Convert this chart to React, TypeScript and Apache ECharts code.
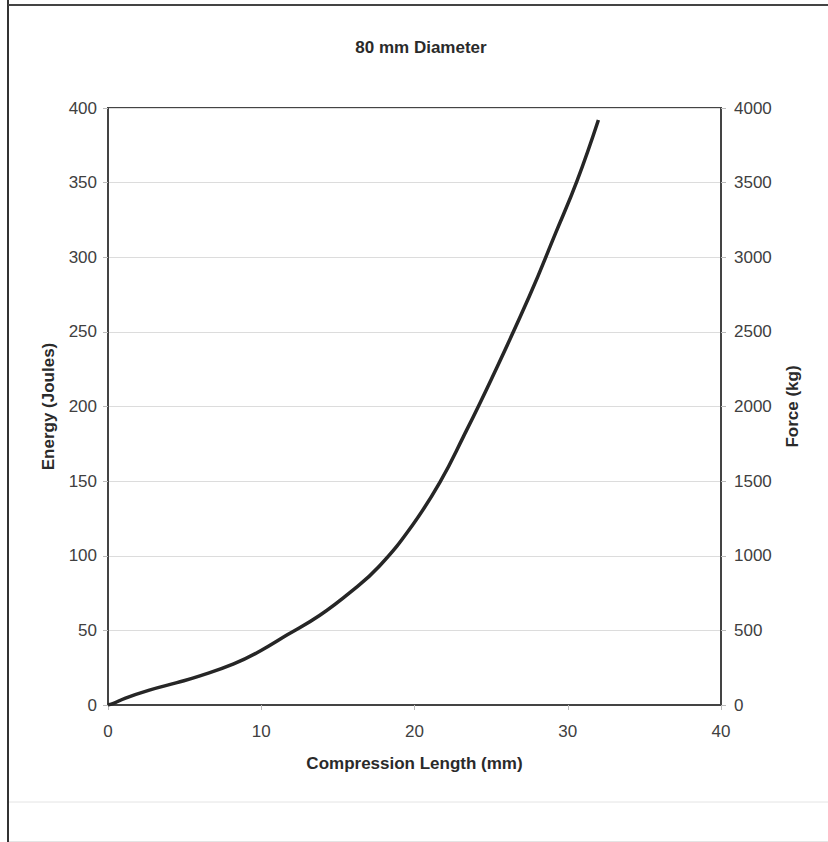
import React, { useEffect, useRef } from "react";
import * as echarts from "echarts";

const compressionMm = [0, 0.4, 1.1, 2.7, 4.5, 6.0, 8.2, 9.9, 11.7, 13.8, 15.8, 17.7, 19.9, 21.7, 23.2, 25.0, 27.5, 29.2, 30.6, 32.0];
const energyJ = [0, 1.2, 4.5, 10, 15, 19.5, 27.5, 36, 47, 60, 75.5, 93, 121, 150, 180, 218, 274, 316, 351, 392];

const xTicks = { min: 0, max: 40, interval: 10 };
const energyTicks = { min: 0, max: 400, interval: 50 };
const forceTicks = { min: 0, max: 4000, interval: 500 };

const titleText = "80 mm Diameter";
const xName = "Compression Length (mm)";
const leftName = "Energy (Joules)";
const rightName = "Force (kg)";

const FONT = "'Liberation Sans', Arial, sans-serif";

export default function App() {
  const ref = useRef<HTMLDivElement>(null);
  useEffect(() => {
    if (!ref.current) return;
    const chart = echarts.init(ref.current, null, { renderer: "svg" });
    const pts = compressionMm.map((x, i) => [x, energyJ[i]]);
    const labelStyle = { color: "#404040", fontSize: 17, fontFamily: FONT };
    const nameStyle = { color: "#2a2a2a", fontSize: 17, fontWeight: "bold" as const, fontFamily: FONT };
    chart.setOption({
      animation: false,
      backgroundColor: "#ffffff",
      title: {
        text: titleText,
        left: 416,
        textAlign: "center",
        top: 34,
        textStyle: { ...nameStyle },
      },
      grid: {
        left: 108,
        top: 108,
        width: 613,
        height: 597,
        show: true,
        borderColor: "#444",
        borderWidth: 2,
        backgroundColor: "transparent",
      },
      xAxis: {
        type: "value",
        min: xTicks.min,
        max: xTicks.max,
        interval: xTicks.interval,
        name: xName,
        nameLocation: "middle",
        nameGap: 50,
        nameTextStyle: nameStyle,
        axisLine: { show: true, onZero: false, lineStyle: { color: "#444", width: 2 } },
        axisTick: { show: true, length: 5, lineStyle: { color: "#bbb" } },
        axisLabel: { ...labelStyle, margin: 18, formatter: (v: number) => String(v) },
        splitLine: { show: false },
      },
      yAxis: [
        {
          type: "value",
          position: "left",
          min: energyTicks.min,
          max: energyTicks.max,
          interval: energyTicks.interval,
          name: leftName,
          nameLocation: "middle",
          nameRotate: 90,
          nameGap: 51,
          nameTextStyle: nameStyle,
          axisLine: { show: true, lineStyle: { color: "#444", width: 2 } },
          axisTick: { show: true, length: 5, lineStyle: { color: "#bbb" } },
          axisLabel: { ...labelStyle, margin: 11, formatter: (v: number) => String(v) },
          splitLine: { show: true, lineStyle: { color: "#dcdcdc", width: 1 } },
        },
        {
          type: "value",
          position: "right",
          min: forceTicks.min,
          max: forceTicks.max,
          interval: forceTicks.interval,
          name: rightName,
          nameLocation: "middle",
          nameRotate: 90,
          nameGap: 63,
          nameTextStyle: nameStyle,
          axisLine: { show: true, lineStyle: { color: "#444", width: 2 } },
          axisTick: { show: true, length: 5, lineStyle: { color: "#bbb" } },
          axisLabel: { ...labelStyle, margin: 13, formatter: (v: number) => String(v) },
          splitLine: { show: false },
        },
      ],
      series: [
        {
          type: "line",
          data: pts,
          yAxisIndex: 0,
          smooth: 0.45,
          showSymbol: false,
          symbol: "none",
          lineStyle: { color: "#262626", width: 3.5 },
        },
        {
          type: "line",
          data: [],
          yAxisIndex: 1,
          showSymbol: false,
        },
      ],
      graphic: [
        { type: "line", shape: { x1: 8, y1: 0, x2: 8, y2: 842 }, style: { stroke: "#333", lineWidth: 2 } },
        { type: "line", shape: { x1: 8, y1: 5, x2: 828, y2: 5 }, style: { stroke: "#444", lineWidth: 2 } },
        { type: "line", shape: { x1: 9, y1: 802, x2: 828, y2: 802 }, style: { stroke: "#e4e4e4", lineWidth: 1 } },
        { type: "line", shape: { x1: 9, y1: 841.5, x2: 828, y2: 841.5 }, style: { stroke: "#e4e4e4", lineWidth: 1 } },
      ],
    });
    return () => chart.dispose();
  }, []);
  return (
    <div
      ref={ref}
      style={{ position: "fixed", left: 0, top: 0, width: 828, height: 842, background: "#fff" }}
    />
  );
}
